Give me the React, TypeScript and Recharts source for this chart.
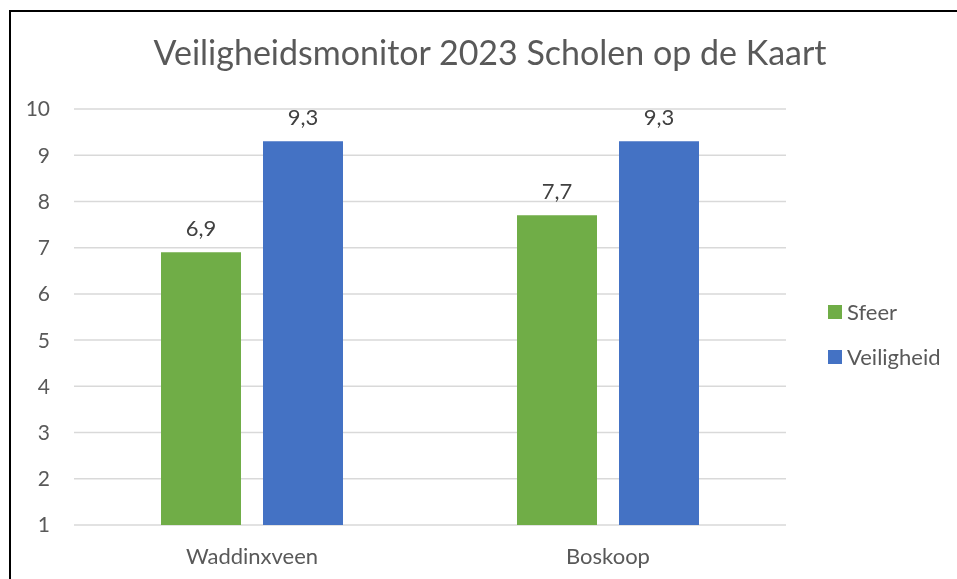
import { BarChart, Bar, XAxis, YAxis, CartesianGrid, Legend, LabelList } from 'recharts';

const categories = ['Waddinxveen', 'Boskoop'];
const sfeer = [6.9, 7.7];
const veiligheid = [9.3, 9.3];
const yTicks = [1, 2, 3, 4, 5, 6, 7, 8, 9, 10];

const data = categories.map((name, i) => ({ name, Sfeer: sfeer[i], Veiligheid: veiligheid[i] }));

const FONT = 'Lato, "Open Sans", sans-serif';
const fmt = (v: any) => String(v).replace('.', ',');

const LegendContent = (props: any) => (
  <div style={{ width: 160, paddingLeft: 42, boxSizing: 'border-box', fontFamily: FONT, fontSize: 22, color: '#595959' }}>
    {props.payload.map((p: any) => (
      <div key={p.value} style={{ height: 45, display: 'flex', alignItems: 'center', whiteSpace: 'nowrap' }}>
        <span style={{ width: 14, height: 14, flexShrink: 0, background: p.color, display: 'inline-block', marginRight: 5 }} />
        {p.value}
      </div>
    ))}
  </div>
);

const App = () => {
  return (
    <div style={{ position: 'fixed', left: 9, top: 10, width: 948, height: 569, borderLeft: '2px solid #000', borderTop: '2px solid #000', overflow: 'hidden' }}>
      <div style={{ position: 'absolute', left: 0, top: 19, width: 958, textAlign: 'center', fontFamily: FONT, fontSize: 34, color: '#595959' }}>
        Veiligheidsmonitor 2023 Scholen op de Kaart
      </div>
      <BarChart width={944} height={570} data={data} margin={{ top: 97, right: 9, bottom: 27, left: 0 }} barGap={22} barSize={80}>
        <CartesianGrid vertical={false} stroke="#d9d9d9" strokeWidth={1.5} />
        <XAxis dataKey="name" axisLine={false} tickLine={false} tickMargin={17} tick={{ fill: '#595959', fontSize: 22, fontFamily: FONT }} />
        <YAxis domain={[1, 10]} ticks={yTicks} width={63} axisLine={false} tickLine={false} tickMargin={18} tick={{ fill: '#595959', fontSize: 21, fontFamily: FONT }} />
        <Legend layout="vertical" align="right" verticalAlign="top" wrapperStyle={{ top: 277 }} content={LegendContent} />
        <Bar dataKey="Sfeer" fill="#70AD47" isAnimationActive={false}>
          <LabelList dataKey="Sfeer" position="top" offset={16} formatter={fmt} style={{ fill: '#404040', fontSize: 22, fontFamily: FONT }} />
        </Bar>
        <Bar dataKey="Veiligheid" fill="#4472C4" isAnimationActive={false}>
          <LabelList dataKey="Veiligheid" position="top" offset={16} formatter={fmt} style={{ fill: '#404040', fontSize: 22, fontFamily: FONT }} />
        </Bar>
      </BarChart>
    </div>
  );
};

export default App;
